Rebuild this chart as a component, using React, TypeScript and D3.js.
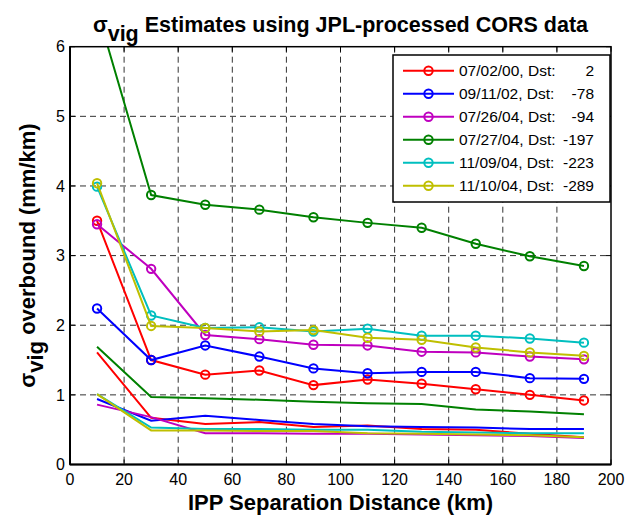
import React from "react";
import { scaleLinear, line } from "d3";

const width = 640;
const height = 517;
const margin = { top: 46.7, right: 29, bottom: 52.5, left: 70 };
const innerWidth = width - margin.left - margin.right;
const innerHeight = height - margin.top - margin.bottom;

// separation distances (km)
const distances = [10, 30, 50, 70, 90, 110, 130, 150, 170, 190];

const dates = ["07/02/00", "09/11/02", "07/26/04", "07/27/04", "11/09/04", "11/10/04"];
const dstValues = ["2", "-78", "-94", "-197", "-223", "-289"];
const colors = ["#ff0000", "#0000ff", "#bf00bf", "#008000", "#00bfbf", "#bfbf00"];

// sigma_vig overbound with markers (mm/km)
const redUpper = [3.5, 1.5, 1.29, 1.35, 1.14, 1.22, 1.16, 1.08, 1.0, 0.92];
const blueUpper = [2.24, 1.5, 1.71, 1.55, 1.38, 1.31, 1.33, 1.33, 1.24, 1.23];
const magentaUpper = [3.45, 2.81, 1.86, 1.8, 1.72, 1.71, 1.62, 1.61, 1.55, 1.51];
const greenUpper = [6.53, 3.87, 3.73, 3.66, 3.55, 3.47, 3.4, 3.17, 2.99, 2.85];
const cyanUpper = [3.99, 2.14, 1.96, 1.97, 1.91, 1.95, 1.85, 1.85, 1.81, 1.75];
const yellowUpper = [4.04, 1.99, 1.96, 1.91, 1.93, 1.82, 1.79, 1.68, 1.61, 1.56];

// lower curves, no markers
const redLower = [1.61, 0.67, 0.58, 0.61, 0.54, 0.56, 0.51, 0.5, 0.44, 0.39];
const blueLower = [0.94, 0.63, 0.7, 0.64, 0.58, 0.55, 0.54, 0.53, 0.51, 0.51];
const magentaLower = [0.86, 0.68, 0.45, 0.45, 0.44, 0.44, 0.43, 0.42, 0.41, 0.38];
const greenLower = [1.69, 0.97, 0.95, 0.93, 0.9, 0.88, 0.87, 0.79, 0.76, 0.72];
const cyanLower = [1.01, 0.53, 0.51, 0.51, 0.5, 0.5, 0.47, 0.46, 0.45, 0.45];
const yellowLower = [1.01, 0.49, 0.49, 0.48, 0.48, 0.45, 0.44, 0.43, 0.42, 0.39];

const upperSeries = [redUpper, blueUpper, magentaUpper, greenUpper, cyanUpper, yellowUpper];
const lowerSeries = [redLower, blueLower, magentaLower, greenLower, cyanLower, yellowLower];

const xTicks = [0, 20, 40, 60, 80, 100, 120, 140, 160, 180, 200];
const yTicks = [0, 1, 2, 3, 4, 5, 6];

const font = "'Liberation Sans', Arial, Helvetica, sans-serif";

export default function App() {
  const xScale = scaleLinear().domain([0, 200]).range([0, innerWidth]);
  const yScale = scaleLinear().domain([0, 6]).range([innerHeight, 0]);

  const lineGen = line<number>()
    .x((d, i) => xScale(distances[i]))
    .y((d) => yScale(d));

  const legendX = 393 - margin.left;
  const legendY = 55 - margin.top;
  const legendW = 217;
  const legendH = 147;

  return (
    <div style={{ position: "absolute", left: 0, top: 0 }}>
      <svg width={width} height={height} style={{ display: "block", fontFamily: font }}>
        <rect width={width} height={height} fill="white" />
        <defs>
          <clipPath id="plot-clip">
            <rect x={0} y={0} width={innerWidth} height={innerHeight} />
          </clipPath>
        </defs>

        {/* title */}
        <text x={margin.left + innerWidth / 2} y={32} textAnchor="middle" fontSize={21.5} fontWeight="bold">
          <tspan>σ</tspan>
          <tspan dy={9}>vig</tspan>
          <tspan dy={-9}> Estimates using JPL-processed CORS data</tspan>
        </text>

        <g transform={`translate(${margin.left}, ${margin.top})`}>
          {/* grid */}
          {xTicks.slice(1, -1).map((t) => (
            <line key={"gx" + t} x1={xScale(t)} x2={xScale(t)} y1={0} y2={innerHeight}
              stroke="#333" strokeWidth={1} strokeDasharray="6,4" />
          ))}
          {yTicks.slice(1, -1).map((t) => (
            <line key={"gy" + t} x1={0} x2={innerWidth} y1={yScale(t)} y2={yScale(t)}
              stroke="#333" strokeWidth={1} strokeDasharray="6,4" />
          ))}

          {/* tick marks on all sides */}
          {xTicks.map((t) => (
            <g key={"tx" + t}>
              <line x1={xScale(t)} x2={xScale(t)} y1={innerHeight} y2={innerHeight - 5} stroke="black" />
              <line x1={xScale(t)} x2={xScale(t)} y1={0} y2={5} stroke="black" />
              <text x={xScale(t)} y={innerHeight + 21} textAnchor="middle" fontSize={16}>{t}</text>
            </g>
          ))}
          {yTicks.map((t) => (
            <g key={"ty" + t}>
              <line x1={0} x2={5} y1={yScale(t)} y2={yScale(t)} stroke="black" />
              <line x1={innerWidth} x2={innerWidth - 5} y1={yScale(t)} y2={yScale(t)} stroke="black" />
              <text x={-5} y={yScale(t)} dy="0.36em" textAnchor="end" fontSize={16}>{t}</text>
            </g>
          ))}

          {/* data */}
          <g clipPath="url(#plot-clip)">
            {upperSeries.map((s, k) => (
              <g key={"s" + k}>
                <path d={lineGen(s) || ""} fill="none" stroke={colors[k]} strokeWidth={2} />
                {s.map((v, i) => (
                  <circle key={i} cx={xScale(distances[i])} cy={yScale(v)} r={4.2}
                    fill="none" stroke={colors[k]} strokeWidth={2} />
                ))}
                <path d={lineGen(lowerSeries[k]) || ""} fill="none" stroke={colors[k]} strokeWidth={2} />
              </g>
            ))}
          </g>

          {/* axes box */}
          <rect x={0} y={0} width={innerWidth} height={innerHeight} fill="none" stroke="black" strokeWidth={1.5} />
          <line x1={0} x2={0} y1={0} y2={innerHeight} stroke="black" strokeWidth={2} />
          <line x1={0} x2={innerWidth} y1={innerHeight} y2={innerHeight} stroke="black" strokeWidth={2} />

          {/* legend */}
          <g transform={`translate(${legendX}, ${legendY})`}>
            <rect x={0} y={0} width={legendW} height={legendH} fill="white" stroke="black" strokeWidth={1.5} />
            {dates.map((d, k) => {
              const ry = 15.7 + k * 23;
              return (
                <g key={"lg" + k}>
                  <line x1={10} x2={61} y1={ry} y2={ry} stroke={colors[k]} strokeWidth={2} />
                  <circle cx={35.5} cy={ry} r={4.2} fill="none" stroke={colors[k]} strokeWidth={2} />
                  <text x={66} y={ry} dy="0.36em" fontSize={15.5}>{d}, Dst:</text>
                  <text x={201} y={ry} dy="0.36em" fontSize={15.5} textAnchor="end">{dstValues[k]}</text>
                </g>
              );
            })}
          </g>
        </g>

        {/* axis labels */}
        <text x={margin.left + innerWidth / 2} y={510} textAnchor="middle" fontSize={22} fontWeight="bold">
          IPP Separation Distance (km)
        </text>
        <text transform={`translate(35, ${margin.top + innerHeight / 2}) rotate(-90)`} textAnchor="middle"
          fontSize={22} fontWeight="bold">
          <tspan>σ</tspan>
          <tspan dy={8}>vig</tspan>
          <tspan dy={-8}> overbound (mm/km)</tspan>
        </text>
      </svg>
    </div>
  );
}
